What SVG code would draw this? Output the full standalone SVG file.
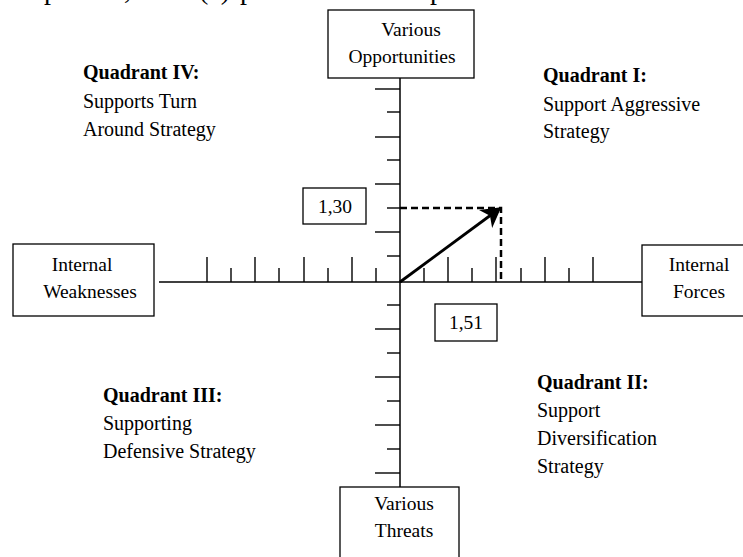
<svg xmlns="http://www.w3.org/2000/svg" width="743" height="557" viewBox="0 0 743 557">
<defs>
<style>
text{font-family:"Liberation Serif","Times New Roman",serif;font-size:19.5px;fill:#000}
.q{font-size:20px}
.c{text-anchor:middle}
.b{font-weight:bold}
.box{fill:#fff;stroke:#000;stroke-width:1.3}
.ax{stroke:#000;stroke-width:1.5;fill:none}
.tk{stroke:#000;stroke-width:1.4}
.dash{stroke:#000;stroke-width:2.5;stroke-dasharray:7 4;fill:none}
.hd{font-size:28px}
</style>
<marker id="ah" markerWidth="8" markerHeight="8" refX="6" refY="4" orient="auto" markerUnits="strokeWidth">
<path d="M0,0 L7,4 L0,8 L2,4 Z" fill="#000"/>
</marker>
</defs>
<g id="header">
<text class="hd" x="44" y="-1">p</text>
<text class="hd" x="124" y="-1">,</text>
<text class="hd" x="199" y="-1">(c)</text>
<text class="hd" x="240" y="-1">p</text>
<text class="hd" x="430" y="-1">p</text>
</g>
<g id="connectors">
<line class="ax" x1="400" y1="78" x2="400" y2="487"/>
<line class="ax" x1="159" y1="282" x2="642" y2="282"/>
<g id="vticks">
<line class="tk" x1="375" y1="89" x2="400" y2="89"/>
<line class="tk" x1="387" y1="112" x2="400" y2="112"/>
<line class="tk" x1="375" y1="137" x2="400" y2="137"/>
<line class="tk" x1="387" y1="160" x2="400" y2="160"/>
<line class="tk" x1="375" y1="184" x2="400" y2="184"/>
<line class="tk" x1="387" y1="208" x2="400" y2="208"/>
<line class="tk" x1="375" y1="232" x2="400" y2="232"/>
<line class="tk" x1="387" y1="256" x2="400" y2="256"/>
<line class="tk" x1="387" y1="305" x2="400" y2="305"/>
<line class="tk" x1="375" y1="329" x2="400" y2="329"/>
<line class="tk" x1="387" y1="353" x2="400" y2="353"/>
<line class="tk" x1="375" y1="377" x2="400" y2="377"/>
<line class="tk" x1="387" y1="401" x2="400" y2="401"/>
<line class="tk" x1="375" y1="425" x2="400" y2="425"/>
<line class="tk" x1="387" y1="449" x2="400" y2="449"/>
<line class="tk" x1="375" y1="473" x2="400" y2="473"/>
</g>
<g id="hticks">
<line class="tk" x1="207" y1="257" x2="207" y2="282"/>
<line class="tk" x1="231" y1="268" x2="231" y2="282"/>
<line class="tk" x1="255" y1="257" x2="255" y2="282"/>
<line class="tk" x1="279" y1="268" x2="279" y2="282"/>
<line class="tk" x1="304" y1="257" x2="304" y2="282"/>
<line class="tk" x1="328" y1="268" x2="328" y2="282"/>
<line class="tk" x1="352" y1="257" x2="352" y2="282"/>
<line class="tk" x1="376" y1="268" x2="376" y2="282"/>
<line class="tk" x1="424" y1="268" x2="424" y2="282"/>
<line class="tk" x1="448" y1="257" x2="448" y2="282"/>
<line class="tk" x1="472" y1="268" x2="472" y2="282"/>
<line class="tk" x1="496" y1="257" x2="496" y2="282"/>
<line class="tk" x1="521" y1="268" x2="521" y2="282"/>
<line class="tk" x1="545" y1="257" x2="545" y2="282"/>
<line class="tk" x1="569" y1="268" x2="569" y2="282"/>
<line class="tk" x1="593" y1="257" x2="593" y2="282"/>
</g>
<path class="dash" d="M400,208 H501 V282"/>
<line x1="400" y1="282" x2="499" y2="209" stroke="#000" stroke-width="2.8" marker-end="url(#ah)"/>
</g>
<g id="node-opportunities">
<rect class="box" x="328" y="10" width="146" height="68"/>
<text class="c" x="411" y="36">Various</text>
<text class="c" x="402" y="63">Opportunities</text>
</g>
<g id="node-weaknesses">
<rect class="box" x="13" y="244" width="141" height="72"/>
<text class="c" x="82" y="271">Internal</text>
<text class="c" x="90" y="298">Weaknesses</text>
</g>
<g id="node-forces">
<rect class="box" x="642" y="245" width="110" height="71"/>
<text class="c" x="699" y="271">Internal</text>
<text class="c" x="699" y="298">Forces</text>
</g>
<g id="node-threats">
<rect class="box" x="340" y="487" width="119" height="80"/>
<text class="c" x="404" y="510">Various</text>
<text class="c" x="404" y="537">Threats</text>
</g>
<g id="node-y130">
<rect class="box" x="303" y="188" width="63" height="36"/>
<text class="c" x="335" y="213">1,30</text>
</g>
<g id="node-x151">
<rect class="box" x="435" y="304" width="62" height="37"/>
<text class="c" x="466" y="329">1,51</text>
</g>
<g id="q4">
<text class="b q" x="83" y="79">Quadrant IV:</text>
<text class="q" x="83" y="108">Supports Turn</text>
<text class="q" x="83" y="136">Around Strategy</text>
</g>
<g id="q1">
<text class="b q" x="543" y="82">Quadrant I:</text>
<text class="q" x="543" y="111">Support Aggressive</text>
<text class="q" x="543" y="138">Strategy</text>
</g>
<g id="q3">
<text class="b q" x="103" y="402">Quadrant III:</text>
<text class="q" x="103" y="430">Supporting</text>
<text class="q" x="103" y="458">Defensive Strategy</text>
</g>
<g id="q2">
<text class="b q" x="537" y="389">Quadrant II:</text>
<text class="q" x="537" y="417">Support</text>
<text class="q" x="537" y="445">Diversification</text>
<text class="q" x="537" y="473">Strategy</text>
</g>
</svg>
